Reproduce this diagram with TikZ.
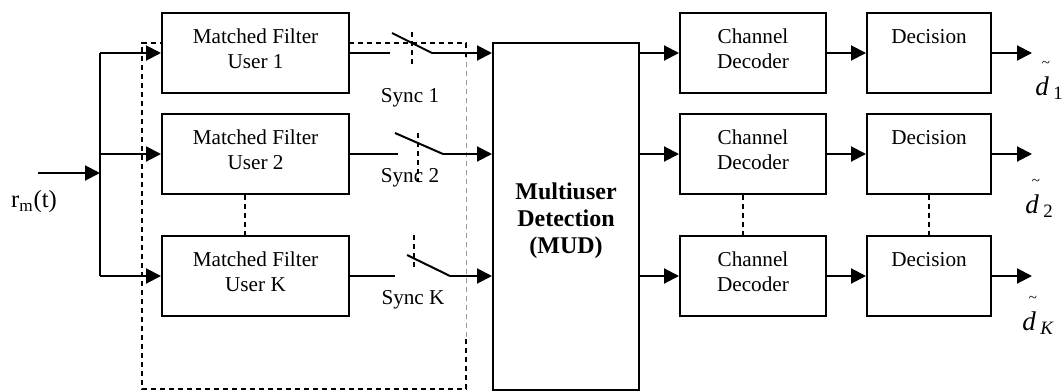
\documentclass[tikz,border=0pt]{standalone}
\usepackage{fontspec}
\setmainfont{Liberation Serif}
\usepackage{tikz}
\usetikzlibrary{arrows.meta}

\newcommand{\dtilde}[1]{\makebox[0pt][l]{\hspace{3.2pt}\raisebox{14pt}{\fontsize{7.5}{7.5}\selectfont\textasciitilde}}\textit{d}\,\textsubscript{#1}}

\tikzset{
  blockbox/.style={draw, fill=white, line width=1pt, inner sep=0pt, align=center,
    minimum height=40pt, font=\fontsize{10.6}{12.5}\selectfont,
    execute at end node={\rule[-4pt]{0pt}{4pt}}},
  arr/.style={line width=1pt, -{Triangle[length=7.5pt,width=7.5pt]}},
  wire/.style={line width=1pt},
  dashln/.style={line width=1pt, dash pattern=on 2.6pt off 1.9pt},
  txt/.style={inner sep=0pt, font=\fontsize{10.6}{12.5}\selectfont},
  outlbl/.style={inner sep=0pt, anchor=base west, font=\fontsize{13.5}{15}\selectfont},
}

\begin{document}
\begin{tikzpicture}[x=0.5pt, y=-0.5pt]
    \useasboundingbox (0,0) rectangle (1064,391);

    % matched filter bank
    \draw[dashln] (466,57) -- (466,43) -- (142,43) -- (142,389) -- (466,389) -- (466,337);
    \draw[dashln, line width=0.5pt, black!40] (466,337) -- (466,57);
    \node[blockbox, minimum width=93.5pt] (mf1) at (255.5,53) {Matched Filter\\User 1};
    \node[blockbox, minimum width=93.5pt] (mf2) at (255.5,154) {Matched Filter\\User 2};
    \node[blockbox, minimum width=93.5pt] (mfK) at (255.5,276) {Matched Filter\\User K};
    \draw[dashln] ([xshift=-5.25pt]mf2.south) -- ([xshift=-5.25pt]mfK.north);

    % input
    \node[inner sep=0pt, font=\fontsize{12.3}{14}\selectfont] (rin) at (34,202) {r\textsubscript{m}(t)};
    \coordinate (in) at (38,173);
    \coordinate (split) at (100,173);
    \coordinate (split1) at (100,53);
    \coordinate (split2) at (100,154);
    \coordinate (splitK) at (100,276);
    \draw[arr] (in) -- (split);
    \draw[wire] (split1) -- (splitK);
    \draw[arr] (split1) -- (mf1);
    \draw[arr] (split2) -- (mf2);
    \draw[arr] (splitK) -- (mfK);

    % multiuser detection
    \node[draw, line width=1pt, minimum width=73pt, minimum height=173.5pt] (mud) at (566,216.5) {};
    \node[inner sep=0pt, align=center, font=\fontsize{12}{13.5}\selectfont\bfseries] (mudtext)
      at (566,221) {Multiuser\\Detection\\(MUD)};

    % sync switches
    \coordinate (sw1a) at (390,53);
    \coordinate (sw1b) at (392,33);
    \coordinate (sw1c) at (432,53);
    \draw[wire] (mf1.east) -- (sw1a);
    \draw[wire] (sw1b) -- (sw1c);
    \draw[arr] (sw1c) -- (sw1c -| mud.west);
    \draw[dashln] (412,32) -- (412,65);
    \node[txt] (sync1) at (410,98) {Sync 1};

    \coordinate (sw2a) at (398,154);
    \coordinate (sw2b) at (395,133);
    \coordinate (sw2c) at (443,154);
    \draw[wire] (mf2.east) -- (sw2a);
    \draw[wire] (sw2b) -- (sw2c);
    \draw[arr] (sw2c) -- (sw2c -| mud.west);
    \draw[dashln] (418,133) -- (418,182);
    \node[txt] (sync2) at (410,178) {Sync 2};

    \coordinate (swKa) at (395,276);
    \coordinate (swKb) at (407,255);
    \coordinate (swKc) at (450,276);
    \draw[wire] (mfK.east) -- (swKa);
    \draw[wire] (swKb) -- (swKc);
    \draw[arr] (swKc) -- (swKc -| mud.west);
    \draw[dashln] (414,235) -- (414,270);
    \node[txt] (syncK) at (413,300) {Sync K};

    % channel decoders and decisions
    \node[blockbox, minimum width=73pt] (cd1) at (753,53) {Channel\\Decoder};
    \node[blockbox, minimum width=73pt] (cd2) at (753,154) {Channel\\Decoder};
    \node[blockbox, minimum width=73pt] (cdK) at (753,276) {Channel\\Decoder};
    \node[blockbox, minimum width=62pt] (dec1) at (929,53) {Decision\\\mbox{}};
    \node[blockbox, minimum width=62pt] (dec2) at (929,154) {Decision\\\mbox{}};
    \node[blockbox, minimum width=62pt] (decK) at (929,276) {Decision\\\mbox{}};
    \draw[dashln] ([xshift=-5pt]cd2.south) -- ([xshift=-5pt]cdK.north);
    \draw[dashln] (dec2.south) -- (decK.north);

    \draw[arr] (mud.east |- cd1) -- (cd1);
    \draw[arr] (mud.east |- cd2) -- (cd2);
    \draw[arr] (mud.east |- cdK) -- (cdK);
    \draw[arr] (cd1) -- (dec1);
    \draw[arr] (cd2) -- (dec2);
    \draw[arr] (cdK) -- (decK);

    % outputs
    \coordinate (out1) at (1032,53);
    \coordinate (out2) at (1032,154);
    \coordinate (outK) at (1032,276);
    \draw[arr] (dec1) -- (out1);
    \draw[arr] (dec2) -- (out2);
    \draw[arr] (decK) -- (outK);
    \node[outlbl] (d1) at (1035,95) {\dtilde{1}};
    \node[outlbl] (d2) at (1025,213) {\dtilde{2}};
    \node[outlbl] (dK) at (1022,330) {\dtilde{\textit{K}}};
  \end{tikzpicture}
\end{document}
